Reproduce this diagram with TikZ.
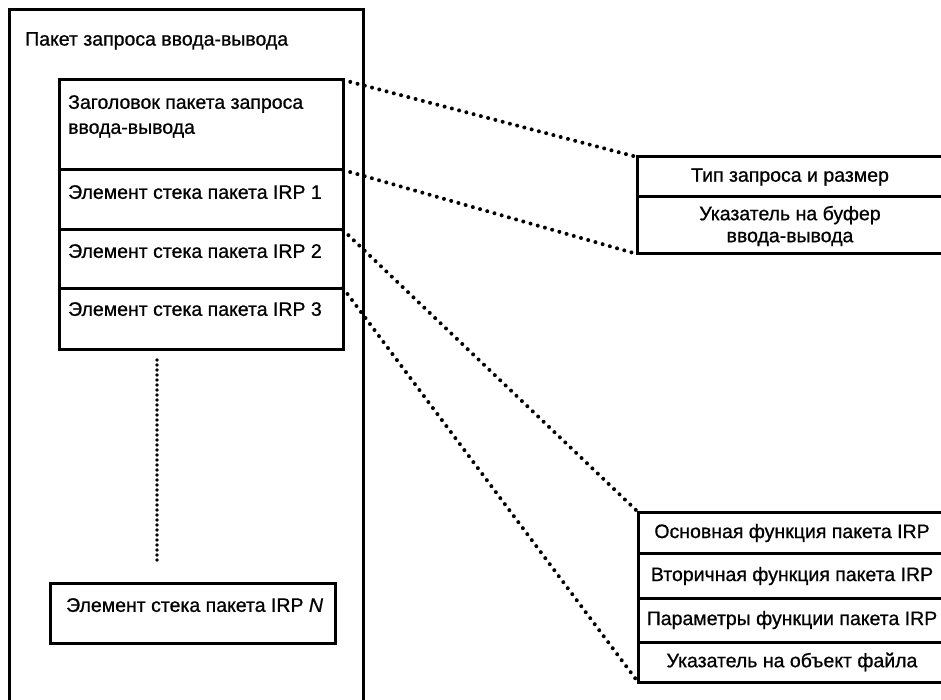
\documentclass[tikz,border=0pt]{standalone}
\usepackage{fontspec}
\setmainfont{Liberation Sans}[FakeBold=0.8]
\begin{document}
\begin{tikzpicture}[x=1pt,y=-1pt,
  box/.style={draw,line width=3pt,rectangle,inner sep=0pt,outer sep=0pt,anchor=north west},
  lbl/.style={anchor=north west,inner sep=0pt,align=left,font=\fontsize{19.5}{25}\selectfont},
  clbl/.style={inner sep=0pt,align=center,font=\fontsize{19.5}{22}\selectfont},
  link/.style={line width=4pt,line cap=round,dash pattern=on 0pt off 7.5pt},
  vdots/.style={line width=3.6pt,line cap=round,dash pattern=on 0pt off 5pt},
]
\clip (0,0) rectangle (941,700);
% outer packet frame, running off the bottom edge
\node[box,minimum width=354pt,minimum height=720pt] (pkt) at (9,10) {};
\node[lbl] (pktlbl) at (25,32) {Пакет запроса ввода-вывода};

% IRP header and stack locations
\node[box,minimum width=284pt,minimum height=90pt] (hdr) at (59,80) {};
\node[box,minimum width=284pt,minimum height=60pt] (s1) at (59,170) {};
\node[box,minimum width=284pt,minimum height=58pt] (s2) at (59,230) {};
\node[box,minimum width=284pt,minimum height=61pt] (s3) at (59,288) {};
\node[lbl] (hdrlbl) at (68,95) {Заголовок пакета запроса\\ввода-вывода};
\node[lbl] (s1lbl) at (68,185) {Элемент стека пакета IRP 1};
\node[lbl] (s2lbl) at (68,244) {Элемент стека пакета IRP 2};
\node[lbl] (s3lbl) at (68,302) {Элемент стека пакета IRP 3};

% last stack location
\node[box,minimum width=285pt,minimum height=60pt] (sn) at (50,583) {};
\node[lbl] (snlbl) at (66,598) {Элемент стека пакета IRP \textit{N}};

\coordinate (gapTop) at (157,360);
\coordinate (gapBot) at (157,560);
\draw[vdots] (gapTop) -- (gapBot);

% header fields
\node[box,minimum width=310pt,minimum height=40pt] (tq) at (637,157) {};
\node[box,minimum width=310pt,minimum height=57pt] (buf) at (637,197) {};
\node[clbl] (tqlbl) at (790,177) {Тип запроса и размер};
\node[clbl] (buflbl) at (790,226) {Указатель на буфер\\ввода-вывода};

% stack location fields
\node[box,minimum width=310pt,minimum height=41pt] (f1) at (638,512) {};
\node[box,minimum width=310pt,minimum height=45pt] (f2) at (638,553) {};
\node[box,minimum width=310pt,minimum height=44pt] (f3) at (638,598) {};
\node[box,minimum width=310pt,minimum height=40pt] (f4) at (638,642) {};
\node[clbl] (f1lbl) at (792,533) {Основная функция пакета IRP};
\node[clbl] (f2lbl) at (792,576) {Вторичная функция пакета IRP};
\node[clbl] (f3lbl) at (792,620) {Параметры функции пакета IRP};
\node[clbl] (f4lbl) at (792,662) {Указатель на объект файла};

% expansion links
\draw[link] (hdr.north east) -- (tq.north west);
\draw[link] (hdr.south east) -- (buf.south west);
\draw[link] (s2.north east) -- (f1.north west);
\draw[link] (s3.north east) -- (f4.south west);
\end{tikzpicture}
\end{document}
